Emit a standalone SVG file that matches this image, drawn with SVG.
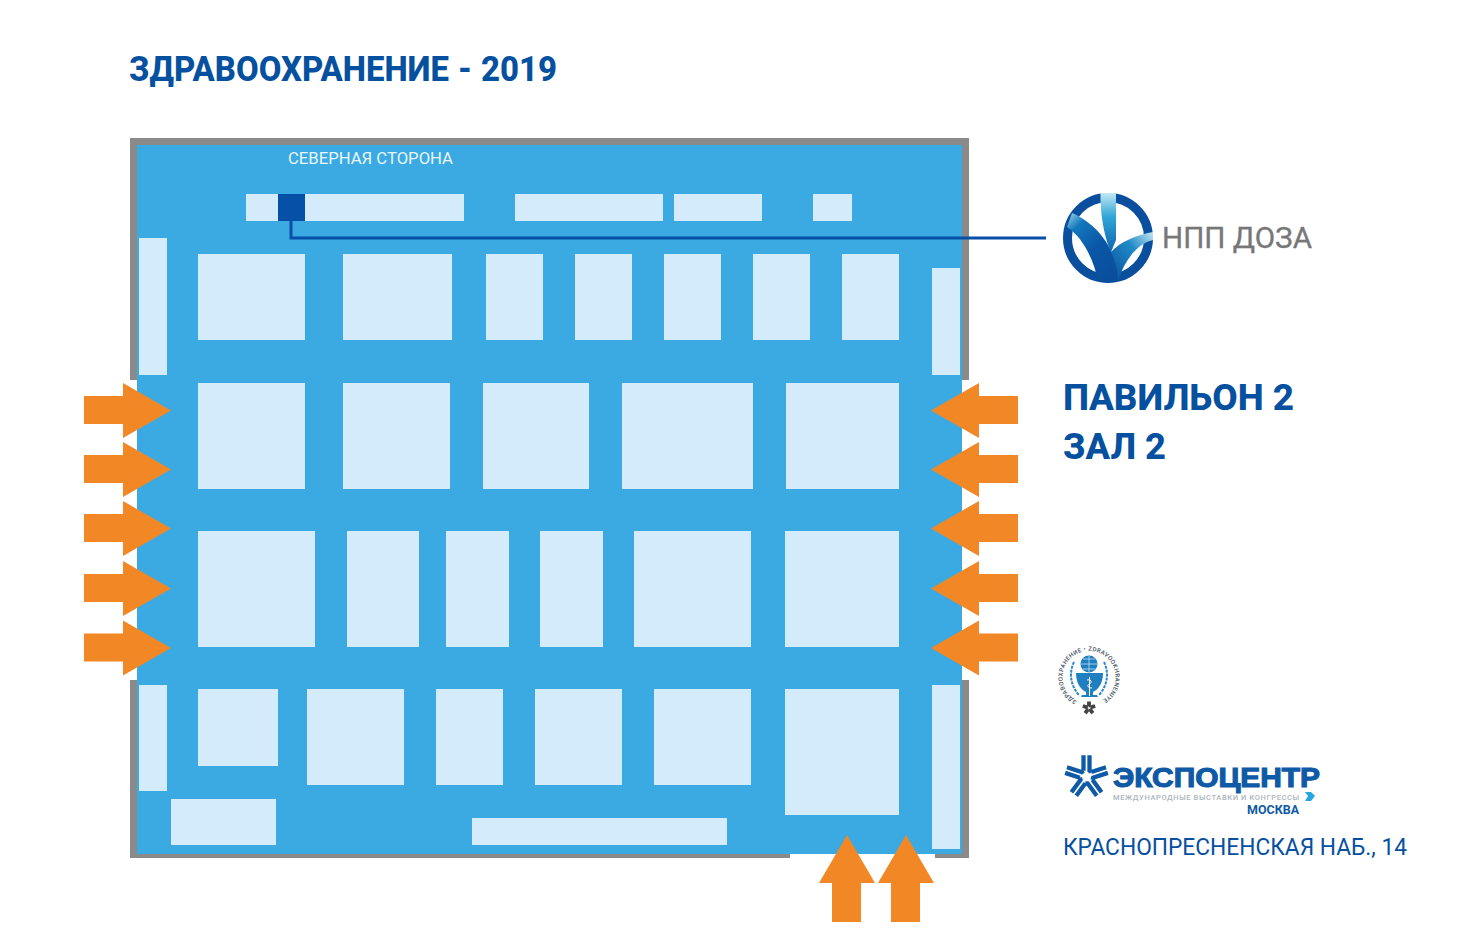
<svg xmlns="http://www.w3.org/2000/svg" width="1476" height="940" viewBox="0 0 1476 940">
<style>
.r{fill:#d3ebfb}
.w{fill:#8a8a8a}
.o{fill:#f28825}
text{font-family:Roboto,"Liberation Sans",sans-serif}
.h{font-weight:800;fill:#0650a0}
</style>
<defs>
<path id="ar" d="M84 396H123V383L171 410.500L123 438V424H84Z"/>
<path id="al" d="M1018 396H979V383L931 410.500L979 438V424H1018Z"/>
<path id="au" d="M847 835L875 883H861V922H832V883H819Z"/>
<path id="arm" d="M-3-21.500V-6M3-21.500V-6L4.800-4.700"/>
<linearGradient id="lf" x1="0" y1="0" x2="0" y2="1"><stop offset="0" stop-color="#c4e8f4"/><stop offset=".4" stop-color="#2fa6d6"/><stop offset="1" stop-color="#0f63b0"/></linearGradient>
<linearGradient id="ll" x1="0" y1="0" x2=".7" y2="1"><stop offset="0" stop-color="#9fd6ec"/><stop offset=".22" stop-color="#1478bc"/><stop offset=".6" stop-color="#0a56a6"/><stop offset="1" stop-color="#0a4f9e"/></linearGradient>
<linearGradient id="lr" x1="1" y1="0" x2="0" y2="1"><stop offset="0" stop-color="#c4e8f4"/><stop offset=".4" stop-color="#1f8ac6"/><stop offset="1" stop-color="#0a4f9e"/></linearGradient>
<path id="ring" d="M1077 701A26.500 26.500 0 1 1 1101 701"/>
</defs>
<text id="title" class="h" x="129" y="81" font-size="35" word-spacing="1" textLength="428" lengthAdjust="spacingAndGlyphs">ЗДРАВООХРАНЕНИЕ - 2019</text>
<g id="hall">
<rect class="w" x="130" y="138" width="839" height="242"/>
<rect class="w" x="130" y="680" width="660" height="178"/>
<rect class="w" x="935" y="680" width="34" height="178"/>
<rect x="137" y="145" width="825" height="709" fill="#3baae2"/>
<rect x="790" y="854" width="145" height="4" fill="#fff"/>
<text x="288" y="164" font-size="16" fill="#eaf6fd" textLength="165" lengthAdjust="spacingAndGlyphs">СЕВЕРНАЯ СТОРОНА</text>
</g>
<g id="stands-north">
<rect class="r" x="246" y="194" width="218" height="27"/>
<rect x="278" y="194" width="27" height="27" fill="#0650a8"/>
<rect class="r" x="515" y="194" width="148" height="27"/>
<rect class="r" x="674" y="194" width="88" height="27"/>
<rect class="r" x="813" y="194" width="39" height="27"/>
</g>
<g id="stands-side">
<rect class="r" x="139" y="238" width="28" height="137"/>
<rect class="r" x="932" y="268" width="28" height="107"/>
<rect class="r" x="139" y="685" width="28" height="106"/>
<rect class="r" x="932" y="685" width="28" height="164"/>
</g>
<g id="stands-row1">
<rect class="r" x="198" y="254" width="107" height="86"/>
<rect class="r" x="343" y="254" width="109" height="86"/>
<rect class="r" x="486" y="254" width="57" height="86"/>
<rect class="r" x="575" y="254" width="57" height="86"/>
<rect class="r" x="664" y="254" width="57" height="86"/>
<rect class="r" x="753" y="254" width="57" height="86"/>
<rect class="r" x="842" y="254" width="57" height="86"/>
</g>
<g id="stands-row2">
<rect class="r" x="198" y="383" width="107" height="106"/>
<rect class="r" x="343" y="383" width="107" height="106"/>
<rect class="r" x="483" y="383" width="106" height="106"/>
<rect class="r" x="622" y="383" width="131" height="106"/>
<rect class="r" x="786" y="383" width="113" height="106"/>
</g>
<g id="stands-row3">
<rect class="r" x="198" y="531" width="117" height="116"/>
<rect class="r" x="347" y="531" width="72" height="116"/>
<rect class="r" x="446" y="531" width="63" height="116"/>
<rect class="r" x="540" y="531" width="63" height="116"/>
<rect class="r" x="634" y="531" width="117" height="116"/>
<rect class="r" x="785" y="531" width="114" height="116"/>
</g>
<g id="stands-row4">
<rect class="r" x="198" y="689" width="80" height="77"/>
<rect class="r" x="307" y="689" width="97" height="96"/>
<rect class="r" x="436" y="689" width="67" height="96"/>
<rect class="r" x="535" y="689" width="87" height="96"/>
<rect class="r" x="654" y="689" width="97" height="96"/>
<rect class="r" x="785" y="689" width="114" height="126"/>
<rect class="r" x="171" y="799" width="105" height="46"/>
<rect class="r" x="472" y="818" width="255" height="27"/>
</g>
<g id="connectors">
<path d="M291 221V238H1046" fill="none" stroke="#0650a8" stroke-width="3"/>
</g>
<g id="entrances" class="o">
<use href="#ar"/><use href="#ar" y="59"/><use href="#ar" y="118"/><use href="#ar" y="178"/><use href="#ar" y="237.500"/>
<use href="#al"/><use href="#al" y="59"/><use href="#al" y="118"/><use href="#al" y="178"/><use href="#al" y="237.500"/>
<use href="#au"/><use href="#au" x="59"/>
</g>
<g id="logo-doza">
<circle cx="1108" cy="238" r="40.500" fill="none" stroke="#0a4f9e" stroke-width="9"/>
<path d="M1072 213C1093 222 1115 243 1120 281L1098 281C1093 257 1082 237 1067 227Z" fill="url(#ll)"/>
<path d="M1100.500 193H1116V240L1111 252C1105 240 1100 215 1100.500 193Z" fill="url(#lf)"/>
<path d="M1153 232C1136 235 1120 242 1111 252C1115 260 1118 272 1118 281C1124 262 1136 244 1153 240Z" fill="url(#lr)"/>
<text x="1162" y="248" font-size="29" fill="#777" stroke="#777" stroke-width=".3" textLength="150" lengthAdjust="spacingAndGlyphs">НПП ДОЗА</text>
</g>
<g id="pavilion">
<text class="h" x="1063" y="410" font-size="36" textLength="231" lengthAdjust="spacingAndGlyphs">ПАВИЛЬОН 2</text>
<text class="h" x="1063" y="459" font-size="36" textLength="103" lengthAdjust="spacingAndGlyphs">ЗАЛ 2</text>
</g>
<g id="logo-zdravo">
<text font-size="6" font-weight="500" fill="#44525f"><textPath href="#ring" textLength="139" lengthAdjust="spacing">ЗДРАВООХРАНЕНИЕ • ZDRAVOOKHRANENIYE</textPath></text>
<circle cx="1089" cy="664" r="8.500" fill="#1f7fc0"/>
<path d="M1081 664H1097M1083 659H1095M1083 669H1095M1089 656V672" stroke="#d9eef9" stroke-width=".7" fill="none"/>
<path d="M1076 673H1103C1103 685 1097 690 1093 692V695H1097L1098 697H1081L1082 695H1086V692C1082 690 1076 685 1076 673Z" fill="#1f7fc0"/>
<path d="M1089.500 677V696M1087 680C1092 679 1092 683 1089.500 684C1087 685 1087 688 1092 688" stroke="#fff" stroke-width="1" fill="none"/>
<path d="M1074 662C1069 672 1070 685 1079 695M1104 662C1109 672 1108 685 1099 695" fill="none" stroke="#2a86c8" stroke-width="2" stroke-dasharray="3 1"/>
<g transform="translate(1089 708) scale(.3)" fill="none" stroke="#444" stroke-width="7">
<use href="#arm"/><use href="#arm" transform="rotate(72)"/><use href="#arm" transform="rotate(144)"/><use href="#arm" transform="rotate(216)"/><use href="#arm" transform="rotate(288)"/>
</g>
</g>
<g id="logo-expocentre">
<g transform="translate(1086.500 776.700)" fill="none" stroke="#0f5aa6" stroke-width="4.300">
<use href="#arm"/><use href="#arm" transform="rotate(72)"/><use href="#arm" transform="rotate(144)"/><use href="#arm" transform="rotate(216)"/><use href="#arm" transform="rotate(288)"/>
</g>
<text x="1113" y="787" font-size="27" font-weight="700" stroke="#0f5aa6" stroke-width="1.100" fill="#0f5aa6" style="font-family:'Liberation Sans',sans-serif" textLength="207" lengthAdjust="spacingAndGlyphs">ЭКСПОЦЕНТР</text>
<text x="1113" y="799.500" font-size="7.500" font-weight="500" fill="#adb5bc" textLength="186" lengthAdjust="spacing">МЕЖДУНАРОДНЫЕ ВЫСТАВКИ И КОНГРЕССЫ</text>
<path d="M1305 792H1311L1315 796L1311 801H1305L1308 796Z" fill="#2aa5e0"/>
<text x="1247" y="814" font-size="13" font-weight="700" fill="#0f5aa6" textLength="52" lengthAdjust="spacingAndGlyphs">МОСКВА</text>
</g>
<text id="address" x="1063" y="855" font-size="24" fill="#0650a0" textLength="344" lengthAdjust="spacingAndGlyphs">КРАСНОПРЕСНЕНСКАЯ НАБ., 14</text>
</svg>
